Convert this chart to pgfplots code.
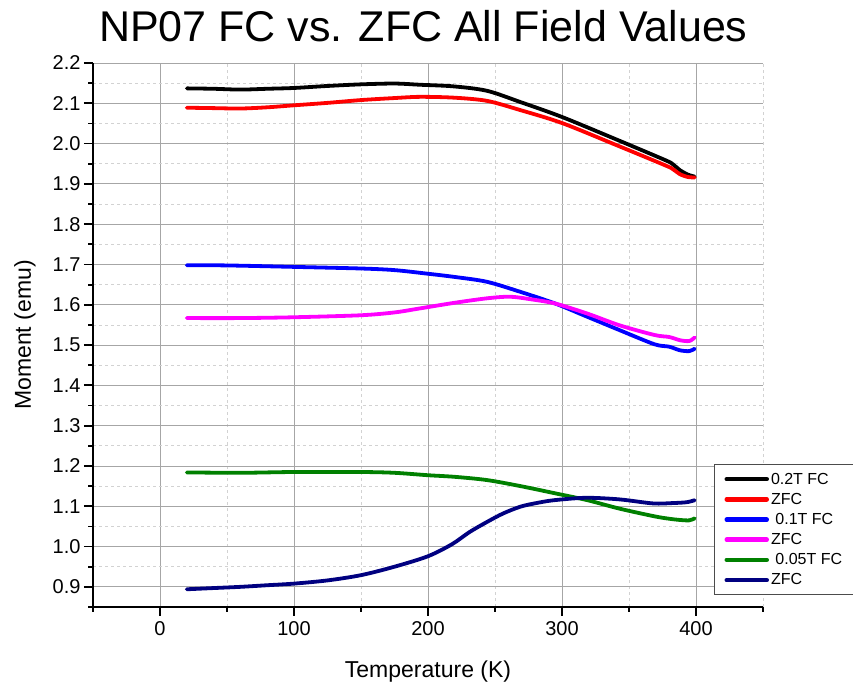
\documentclass[border=0pt]{standalone}
\usepackage{pgfplots}
\pgfplotsset{compat=1.18}
\usepackage{fontspec}
\setmainfont{Liberation Sans}
\definecolor{cgreen}{RGB}{0,128,0}
\definecolor{cnavy}{RGB}{0,0,128}
\definecolor{cmag}{RGB}{255,0,255}
\definecolor{cblue}{RGB}{0,0,255}
\definecolor{cred}{RGB}{255,0,0}
\begin{document}
\begin{tikzpicture}
\useasboundingbox (0,0) rectangle (853pt,687pt);
\begin{axis}[
  at={(93pt,80pt)}, anchor=south west,
  scale only axis, width=670pt, height=544pt,
  xmin=-50, xmax=450, ymin=0.85, ymax=2.2,
  axis lines=left,
  axis line style={-, line width=2pt, black},
  xtick={0,100,200,300,400},
  minor xtick={-50,50,150,250,350,450},
  ytick={0.9,1.0,1.1,1.2,1.3,1.4,1.5,1.6,1.7,1.8,1.9,2.0,2.1,2.2},
  minor ytick={0.85,0.95,1.05,1.15,1.25,1.35,1.45,1.55,1.65,1.75,1.85,1.95,2.05,2.15},
  tick align=outside,
  major tick length=9pt, minor tick length=5pt,
  every tick/.style={black, line width=1.8pt},
  grid=both,
  major grid style={gray!70, line width=0.9pt},
  minor grid style={gray!35, dashed, line width=0.7pt},
  /pgf/number format/assume math mode=true,
  yticklabel style={/pgf/number format/.cd, fixed, fixed zerofill, precision=1},
  ticklabel style={font=\fontsize{20}{24}\selectfont},
  xticklabel style={yshift=-2pt},
  title={NP07 FC vs. ZFC All Field Values},
  title style={font=\fontsize{43}{50}\selectfont, at={(0.493,1)}, anchor=base, yshift=15pt},
  xlabel={Temperature (K)},
  ylabel={Moment (emu)},
  xlabel style={font=\fontsize{23}{28}\selectfont, at={(axis description cs:0.5,-0.1287)}, anchor=base},
  ylabel style={font=\fontsize{23}{28}\selectfont, at={(axis description cs:-0.1015,0.5)}, anchor=center},
  legend style={at={(0.927,0.262)}, anchor=north west, draw=black!70, line width=0.8pt,
    fill=white, font=\fontsize{16}{19}\selectfont, inner xsep=10pt, inner ysep=6pt, row sep=3.5pt},
  legend cell align=left,
  legend image code/.code={\draw[#1, line width=4.5pt] (0pt,0pt) -- (40pt,0pt);},
  every axis plot/.append style={line width=3.8pt, smooth, line join=round, line cap=round},
]
\addplot[black] coordinates {(20,2.137)(40,2.136)(60,2.134)(80,2.136)(100,2.138)(125,2.143)(150,2.147)(175,2.149)(194,2.146)(219,2.142)(244,2.131)(269,2.103)(300,2.066)(340,2.011)(377,1.959)(383,1.948)(388,1.934)(394,1.923)(399,1.918)};
\addlegendentry{0.2T FC}
\addplot[cred] coordinates {(20,2.089)(40,2.088)(60,2.087)(80,2.090)(100,2.095)(125,2.101)(150,2.108)(175,2.113)(194,2.116)(219,2.114)(244,2.106)(269,2.083)(300,2.051)(340,1.997)(377,1.946)(383,1.936)(388,1.924)(394,1.917)(399,1.916)};
\addlegendentry{ZFC}
\addplot[cblue] coordinates {(20,1.698)(40,1.698)(60,1.697)(100,1.694)(150,1.690)(175,1.686)(200,1.677)(220,1.669)(244,1.657)(269,1.632)(295,1.603)(319,1.570)(343,1.537)(369,1.502)(380,1.496)(388,1.487)(395,1.485)(399,1.491)};
\addlegendentry{\ 0.1T FC}
\addplot[cmag] coordinates {(20,1.567)(60,1.567)(100,1.569)(150,1.574)(175,1.581)(194,1.591)(220,1.605)(244,1.616)(261,1.620)(276,1.614)(295,1.603)(319,1.578)(343,1.549)(369,1.525)(380,1.520)(388,1.512)(395,1.510)(399,1.519)};
\addlegendentry{ZFC}
\addplot[cgreen] coordinates {(20,1.184)(60,1.183)(100,1.185)(150,1.185)(175,1.183)(200,1.177)(220,1.173)(244,1.165)(269,1.150)(295,1.132)(319,1.115)(343,1.094)(369,1.075)(380,1.069)(388,1.066)(395,1.065)(399,1.070)};
\addlegendentry{\ 0.05T FC}
\addplot[cnavy] coordinates {(20,0.894)(40,0.897)(60,0.900)(80,0.904)(100,0.908)(125,0.916)(150,0.929)(175,0.950)(200,0.976)(218,1.006)(231,1.036)(244,1.061)(256,1.082)(269,1.099)(281,1.108)(294,1.115)(318,1.121)(343,1.117)(368,1.107)(383,1.108)(393,1.110)(399,1.115)};
\addlegendentry{ZFC}
\end{axis}
\end{tikzpicture}
\end{document}
